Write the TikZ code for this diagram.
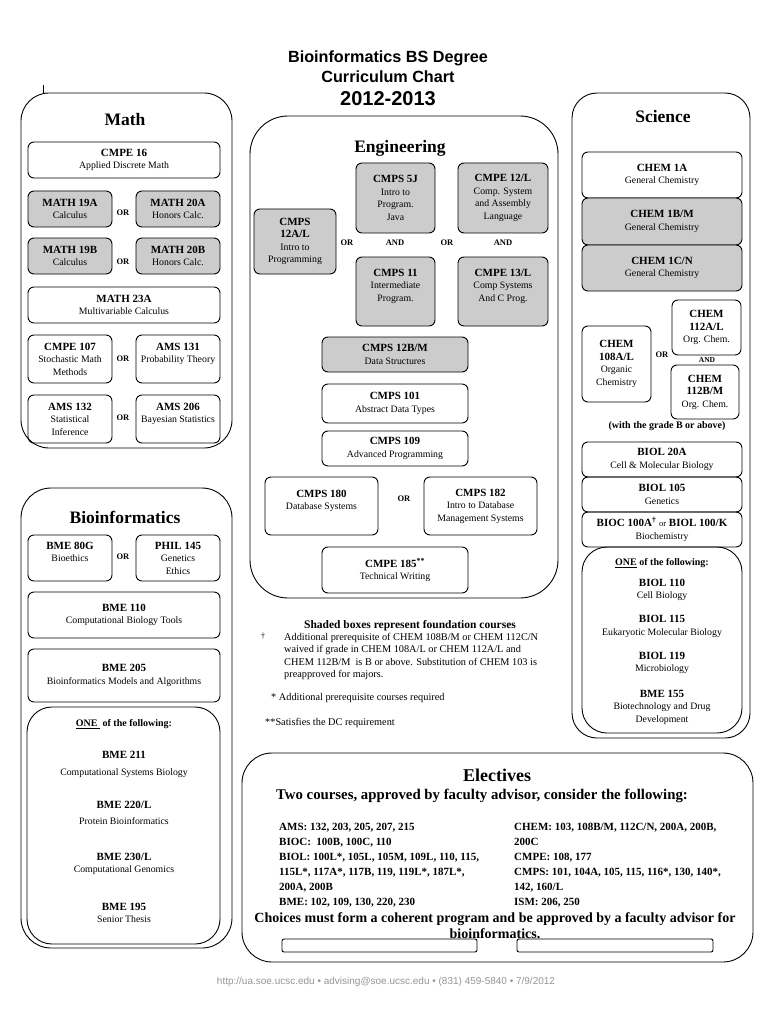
\documentclass[tikz,border=0pt]{standalone}
\usepackage{fontspec}
\setmainfont{Liberation Serif}
\newfontfamily\headfont{Liberation Sans}
\usetikzlibrary{positioning}
\definecolor{shade}{RGB}{204,204,204}
\definecolor{footgray}{RGB}{150,150,150}
\newcommand{\crs}[1]{{\fontsize{11}{12.5}\selectfont\bfseries #1}}
\tikzset{course/.style={draw,line width=0.9pt,rounded corners=6pt,align=center,inner sep=1pt,font=\fontsize{9.8}{12.5}\selectfont},
  found/.style={course,fill=shade},
  panel/.style={draw,line width=0.9pt},
  conj/.style={font=\fontsize{8.5}{10}\selectfont\bfseries},
  heading/.style={font=\fontsize{17.5}{20}\selectfont\bfseries},
  plain/.style={align=center,inner sep=0pt,font=\fontsize{9.8}{12.5}\selectfont}}

\begin{document}
\begin{tikzpicture}[x=1pt,y=-1pt]
    \useasboundingbox (0,0) rectangle (770,1024);
    \fill[white] (0,0) rectangle (770,1024);

    % title
    \node[font=\headfont\fontsize{16.2}{18}\selectfont\bfseries] (title1) at (388,58) {Bioinformatics BS Degree};
    \node[font=\headfont\fontsize{16.2}{18}\selectfont\bfseries] (title2) at (388,77) {Curriculum Chart};
    \node[font=\headfont\fontsize{20}{22}\selectfont\bfseries] (year) at (388,99) {2012-2013};
    \draw[line width=0.5pt] (43,85) -- (43,94);

    % math
    \draw[panel,rounded corners=28pt] (21,93) rectangle (232,448);
    \node[heading] (math) at (125,120) {Math};
    \node[course,minimum width=192pt,minimum height=36pt] (cmpe16) at (124,160) {\crs{CMPE 16}\\Applied Discrete Math};
    \node[found,minimum width=84pt,minimum height=36pt] (m19a) at (70,209) {\crs{MATH 19A}\\Calculus};
    \node[found,minimum width=84pt,minimum height=36pt] (m20a) at (178,209) {\crs{MATH 20A}\\Honors Calc.};
    \node[conj] (or1) at (123,213) {OR};
    \node[found,minimum width=84pt,minimum height=36pt] (m19b) at (70,256) {\crs{MATH 19B}\\Calculus};
    \node[found,minimum width=84pt,minimum height=36pt] (m20b) at (178,256) {\crs{MATH 20B}\\Honors Calc.};
    \node[conj] (or2) at (123,262) {OR};
    \node[course,minimum width=192pt,minimum height=36pt] (m23a) at (124,305) {\crs{MATH 23A}\\Multivariable Calculus};
    \node[course,minimum width=84pt,minimum height=48pt] (cmpe107) at (70,359) {\crs{CMPE 107}\\Stochastic Math\\Methods};
    \node[course,minimum width=84pt,minimum height=48pt] (ams131) at (178,359) {\crs{AMS 131}\\Probability Theory\\\mbox{}};
    \node[conj] (or3) at (123,359) {OR};
    \node[course,minimum width=84pt,minimum height=48pt] (ams132) at (70,419) {\crs{AMS 132}\\Statistical\\Inference};
    \node[course,minimum width=84pt,minimum height=48pt] (ams206) at (178,419) {\crs{AMS 206}\\Bayesian Statistics\\\mbox{}};
    \node[conj] (or4) at (123,418) {OR};

    % engineering
    \draw[panel,rounded corners=38pt] (250,116) rectangle (558,598);
    \node[heading] (eng) at (400,148) {Engineering};
    \node[found,minimum width=79pt,minimum height=70pt] (cmps5j) at (395.5,198) {\crs{CMPS 5J}\\Intro to\\Program.\\Java};
    \node[found,minimum width=90pt,minimum height=70pt] (cmpe12) at (503,198) {\crs{CMPE 12/L}\\Comp. System\\and Assembly\\Language};
    \node[found,minimum width=82pt,minimum height=65pt] (cmps12a) at (295,241.5) {\crs{CMPS}\\\crs{12A/L}\\Intro to\\Programming};
    \node[conj] (or5) at (347,243) {OR};
    \node[conj] (and1) at (395,243) {AND};
    \node[conj] (or6) at (447,243) {OR};
    \node[conj] (and2) at (503,243) {AND};
    \node[found,minimum width=79pt,minimum height=69pt] (cmps11) at (395.5,291.5) {\crs{CMPS 11}\\Intermediate\\Program.\\\mbox{}};
    \node[found,minimum width=90pt,minimum height=69pt] (cmpe13) at (503,291.5) {\crs{CMPE 13/L}\\Comp Systems\\And C Prog.\\\mbox{}};
    \node[found,minimum width=146pt,minimum height=35pt] (cmps12b) at (395,354.5) {\crs{CMPS 12B/M}\\Data Structures};
    \node[course,minimum width=146pt,minimum height=39pt] (cmps101) at (395,403.5) {\crs{CMPS 101}\\Abstract Data Types};
    \node[course,minimum width=146pt,minimum height=35pt] (cmps109) at (395,448.5) {\crs{CMPS 109}\\Advanced Programming};
    \node[course,minimum width=113pt,minimum height=58pt] (cmps180) at (321.5,506) {\crs{CMPS 180}\\Database Systems\\\mbox{}};
    \node[conj] (or7) at (404,499) {OR};
    \node[course,minimum width=113pt,minimum height=58pt] (cmps182) at (480.5,506) {\crs{CMPS 182}\\Intro to Database\\Management Systems};
    \node[course,minimum width=146pt,minimum height=46pt] (cmpe185) at (395,570) {\crs{CMPE 185\textsuperscript{**}}\\Technical Writing};

    % science
    \draw[panel,rounded corners=25pt] (572,93) rectangle (750,738);
    \node[heading] (sci) at (663,117) {Science};
    \node[course,minimum width=160pt,minimum height=46pt] (chem1a) at (662,175) {\crs{CHEM 1A}\\General Chemistry};
    \node[found,minimum width=160pt,minimum height=47pt] (chem1b) at (662,221.5) {\crs{CHEM 1B/M}\\General Chemistry};
    \node[found,minimum width=160pt,minimum height=46pt] (chem1c) at (662,268) {\crs{CHEM 1C/N}\\General Chemistry};
    \node[course,minimum width=69pt,minimum height=55pt] (chem112a) at (706.5,327.5) {\crs{CHEM}\\\crs{112A/L}\\Org. Chem.};
    \node[course,minimum width=69pt,minimum height=76pt] (chem108) at (616.5,364) {\crs{CHEM}\\\crs{108A/L}\\Organic\\Chemistry};
    \node[conj] (or8) at (662,355) {OR};
    \node[conj,font=\fontsize{7.5}{9}\selectfont\bfseries] (and3) at (707,360) {AND};
    \node[course,minimum width=68pt,minimum height=54pt] (chem112b) at (705,392) {\crs{CHEM}\\\crs{112B/M}\\Org. Chem.};
    \node[plain,font=\fontsize{10}{11}\selectfont\bfseries] (grade) at (667,426) {(with the grade B or above)};
    \node[course,minimum width=160pt,minimum height=35pt] (biol20a) at (662,459.5) {\crs{BIOL 20A}\\Cell \& Molecular Biology};
    \node[course,minimum width=160pt,minimum height=35pt] (biol105) at (662,494.5) {\crs{BIOL 105}\\Genetics};
    \node[course,minimum width=160pt,minimum height=35pt] (bioc100) at (662,529.5) {\crs{BIOC 100A\textsuperscript{\textdagger} {\mdseries\fontsize{8.5}{10}\selectfont or} BIOL 100/K}\\Biochemistry};
    \draw[panel,rounded corners=25pt] (582,547) rectangle (742,733);
    \node[plain,font=\fontsize{10}{11}\selectfont\bfseries] (sone) at (662,563) {\underline{ONE} of the following:};
    \node[plain] (biol110) at (662,590) {\crs{BIOL 110}\\Cell Biology};
    \node[plain] (biol115) at (662,626.5) {\crs{BIOL 115}\\Eukaryotic Molecular Biology};
    \node[plain] (biol119) at (662,663) {\crs{BIOL 119}\\Microbiology};
    \node[plain] (bme155) at (662,707) {\crs{BME 155}\\Biotechnology and Drug\\Development};

    % bioinformatics
    \draw[panel,rounded corners=30pt] (21,488) rectangle (232,948);
    \node[heading] (bioinf) at (125,517) {Bioinformatics};
    \node[course,minimum width=84pt,minimum height=46pt] (bme80g) at (70,558) {\crs{BME 80G}\\Bioethics\\\mbox{}};
    \node[course,minimum width=84pt,minimum height=46pt] (phil145) at (178,558) {\crs{PHIL 145}\\Genetics\\Ethics};
    \node[conj] (or9) at (123,557) {OR};
    \node[course,minimum width=192pt,minimum height=46pt] (bme110) at (124,615) {\crs{BME 110}\\Computational Biology Tools};
    \node[course,minimum width=192pt,minimum height=53pt] (bme205) at (124,675.5) {\crs{BME 205}\\Bioinformatics Models and Algorithms};
    \draw[panel,rounded corners=25pt] (27,707) rectangle (220,944);
    \node[plain,font=\fontsize{10}{11}\selectfont\bfseries] (bone) at (124,724) {\underline{ONE\ } of the following:};
    \node[plain] (bme211) at (124,755) {\crs{BME 211}};
    \node[plain] (bme211d) at (124,773) {Computational Systems Biology};
    \node[plain] (bme220) at (124,805) {\crs{BME 220/L}};
    \node[plain] (bme220d) at (124,821) {Protein Bioinformatics};
    \node[plain] (bme230) at (124,864) {\crs{BME 230/L}\\Computational Genomics};
    \node[plain] (bme195) at (124,913) {\crs{BME 195}\\Senior Thesis};

    % notes
    \node[plain,font=\fontsize{11.5}{13}\selectfont\bfseries] (shaded) at (410,626) {Shaded boxes represent foundation courses};
    \node[plain,font=\fontsize{8}{10}\selectfont] (dag) at (263,636) {\textdagger};
    \node[plain,align=left,anchor=west,font=\fontsize{10.3}{12.3}\selectfont] (note1) at (284,656.5) {Additional prerequisite of CHEM 108B/M or CHEM 112C/N\\waived if grade in CHEM 108A/L or CHEM 112A/L and\\CHEM 112B/M\ \ is B or above. Substitution of CHEM 103 is\\preapproved for majors.};
    \node[plain,anchor=west,font=\fontsize{10.3}{12}\selectfont] (note2) at (271,698) {* Additional prerequisite courses required};
    \node[plain,anchor=west,font=\fontsize{10.3}{12}\selectfont] (note3) at (265,723) {**Satisfies the DC requirement};

    % electives
    \draw[panel,rounded corners=30pt] (242,753) rectangle (753,962);
    \node[heading,font=\fontsize{18}{20}\selectfont\bfseries] (elect) at (497,775) {Electives};
    \node[plain,font=\fontsize{14.8}{16}\selectfont\bfseries] (two) at (482,796) {Two courses, approved by faculty advisor, consider the following:};
    \node[plain,align=left,anchor=west,font=\fontsize{11}{15}\selectfont\bfseries] (listl) at (279,865.5) {AMS: 132, 203, 205, 207, 215\\BIOC:\ \ 100B, 100C, 110\\BIOL: 100L*, 105L, 105M, 109L, 110, 115,\\115L*, 117A*, 117B, 119, 119L*, 187L*,\\200A,\ 200B\\BME: 102, 109, 130, 220, 230};
    \node[plain,align=left,anchor=west,font=\fontsize{11}{15}\selectfont\bfseries] (listr) at (514,865.5) {CHEM: 103, 108B/M, 112C/N, 200A, 200B,\\200C\\CMPE: 108, 177\\CMPS: 101, 104A, 105, 115, 116*, 130, 140*,\\142, 160/L\\ISM: 206, 250};
    \node[plain,font=\fontsize{14}{16}\selectfont\bfseries] (choice) at (495,926) {Choices must form a coherent program and be approved by a faculty advisor for\\bioinformatics.};
    \node[draw,line width=0.9pt,rounded corners=2pt,minimum width=195pt,minimum height=13pt,inner sep=0pt] (blank1) at (379.5,945.5) {};
    \node[draw,line width=0.9pt,rounded corners=2pt,minimum width=196pt,minimum height=13pt,inner sep=0pt] (blank2) at (615,945.5) {};

    % footer
    \node[font=\headfont\fontsize{10}{12}\selectfont,text=footgray] (foot) at (386,982) {http://ua.soe.ucsc.edu \textbullet{} advising@soe.ucsc.edu \textbullet{} (831) 459-5840 \textbullet{} 7/9/2012};
\end{tikzpicture}
\end{document}
